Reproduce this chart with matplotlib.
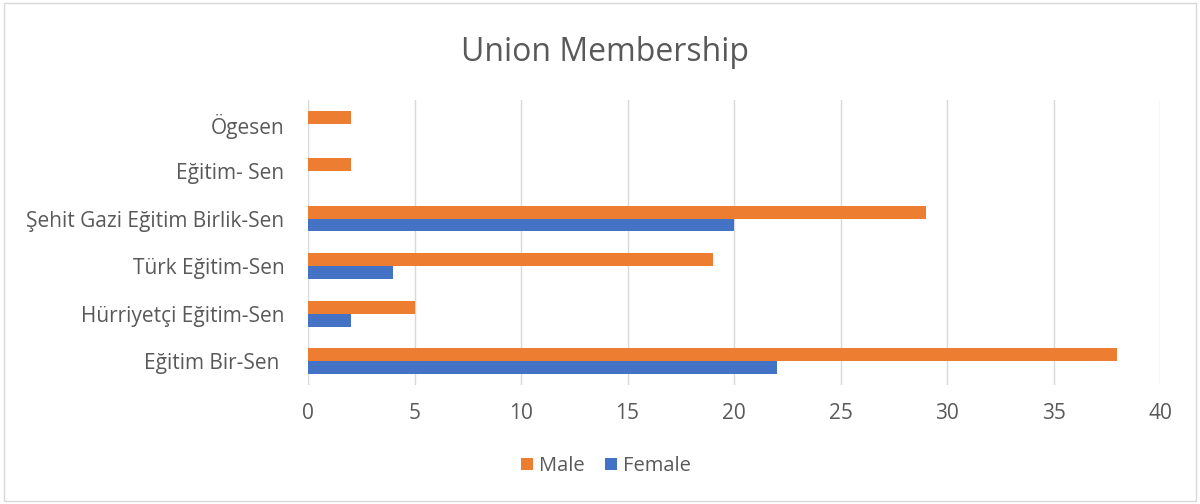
import matplotlib.pyplot as plt
import numpy as np

unions = ["Eğitim Bir-Sen ", "Hürriyetçi Eğitim-Sen", "Türk Eğitim-Sen",
          "Şehit Gazi Eğitim Birlik-Sen", "Eğitim- Sen", "Ögesen"]
male = [38, 5, 19, 29, 2, 2]
female = [22, 2, 4, 20, 0, 0]
x_ticks = [0, 5, 10, 15, 20, 25, 30, 35, 40]

plt.rcParams["font.family"] = ["Open Sans", "DejaVu Sans"]
text_color = "#595959"

figure = plt.figure(figsize=(12, 5.04), dpi=100)
axis = figure.add_axes([0.2567, 0.236, 0.71, 0.566])

y = np.arange(len(unions))
height = 0.27
axis.barh(y + height / 2, male, height, color="#ED7D31", label="Male", zorder=3)
axis.barh(y - height / 2, female, height, color="#4472C4", label="Female", zorder=3)

axis.set_xlim(0, 40)
axis.set_ylim(-0.5, len(unions) - 0.5)
axis.set_xticks(x_ticks)
axis.set_yticks(y)
axis.set_yticklabels(unions)
axis.tick_params(axis="both", length=0, labelsize=15, colors=text_color)
axis.tick_params(axis="x", pad=13)
axis.tick_params(axis="y", pad=17)
axis.grid(axis="x", color="#D9D9D9", linewidth=1, zorder=0)
for spine in axis.spines.values():
    spine.set_visible(False)

figure.text(0.504, 0.895, "Union Membership", ha="center", va="center",
            fontsize=23, color=text_color)

handles, labels = axis.get_legend_handles_labels()
figure.legend(handles, labels, loc="center", bbox_to_anchor=(0.505, 0.075), ncol=2,
              frameon=False, fontsize=14.5, labelcolor=text_color, handlelength=0.6,
              handleheight=0.6, handletextpad=0.3, columnspacing=1.0)

border = plt.Rectangle((0.003, 0.005), 0.994, 0.99, transform=figure.transFigure,
                       fill=False, edgecolor="#D9D9D9", linewidth=1)
figure.patches.append(border)

figure.savefig("out.png", dpi=100)
plt.close(figure)
